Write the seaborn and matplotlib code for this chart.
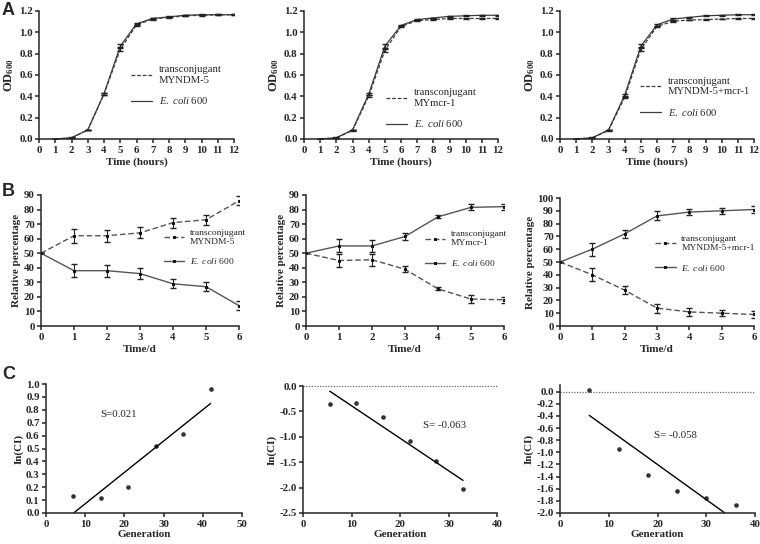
import numpy as np
import pandas as pd
import matplotlib
matplotlib.use('Agg')
import matplotlib.pyplot as plt
import seaborn as sns

# ── Data ────────────────────────────────────────
# A: growth curves (OD600)
hours = [1, 2, 3, 4, 5, 6, 7, 8, 9, 10, 11, 12]
a1_trans = [0.0, 0.010, 0.085, 0.420, 0.840, 1.070, 1.125, 1.140, 1.155, 1.160, 1.165, 1.165]
a1_ecoli = [0.0, 0.012, 0.085, 0.425, 0.870, 1.080, 1.130, 1.145, 1.160, 1.165, 1.165, 1.165]
a2_trans = [0.0, 0.010, 0.080, 0.400, 0.830, 1.055, 1.110, 1.120, 1.130, 1.130, 1.130, 1.130]
a2_ecoli = [0.0, 0.012, 0.085, 0.420, 0.870, 1.065, 1.120, 1.135, 1.150, 1.155, 1.160, 1.160]
a3_trans = [0.0, 0.010, 0.080, 0.390, 0.840, 1.055, 1.105, 1.115, 1.120, 1.125, 1.130, 1.130]
a3_ecoli = [0.0, 0.012, 0.085, 0.410, 0.870, 1.070, 1.125, 1.140, 1.155, 1.160, 1.165, 1.165]
a_err = [0.0, 0.003, 0.003, 0.008, 0.018, 0.007, 0.005, 0.004, 0.004, 0.004, 0.003, 0.003]
a_names = ['transconjugant\nMYNDM-5', 'transconjugant\nMYmcr-1', 'transconjugant\nMYNDM-5+mcr-1']

# B: competition assay (relative percentage)
days = [0, 1, 2, 3, 4, 5, 6]
b1_trans = [50, 62, 62, 64, 71, 73, 86]
b1_trans_err = [0, 4.8, 4.0, 3.8, 3.5, 3.5, 3.0]
b1_ecoli = [50, 38, 38, 36, 29, 27, 14]
b1_ecoli_err = [0, 4.5, 4.0, 4.0, 3.2, 3.2, 3.0]
b2_trans = [50, 45, 45.5, 39, 25.5, 18.5, 18]
b2_trans_err = [0, 4.5, 4.0, 2.0, 1.0, 2.5, 2.0]
b2_ecoli = [50, 55, 55, 61.5, 75, 81.5, 82]
b2_ecoli_err = [0, 4.5, 4.0, 2.2, 1.0, 2.0, 2.0]
b3_trans = [50, 40, 28, 14, 11, 10, 9]
b3_trans_err = [0, 5.0, 3.0, 3.5, 3.0, 2.5, 2.5]
b3_ecoli = [50, 60, 72, 86, 89, 90, 91]
b3_ecoli_err = [0, 5.0, 3.0, 3.5, 2.5, 2.5, 2.5]
b_names = ['transconjugant\nMYNDM-5', 'transconjugant\nMYmcr-1', 'transconjugant\nMYNDM-5+mcr-1']

# C: competitive index per generation
c1_gen = [7, 14, 21, 28, 35, 42]
c1_lnci = [0.135, 0.115, 0.20, 0.52, 0.61, 0.965]
c2_gen = [5.5, 11, 16.5, 22, 27.5, 33]
c2_lnci = [-0.35, -0.33, -0.61, -1.09, -1.47, -2.03]
c3_gen = [6, 12, 18, 24, 30, 36]
c3_lnci = [0.03, -0.95, -1.38, -1.63, -1.75, -1.87]
c_slopes = ['S=0.021', 'S= -0.063', 'S= -0.058']

# ── Style ───────────────────────────────────────
sns.set_style('ticks')
plt.rcParams['font.family'] = ['Liberation Serif', 'DejaVu Serif']
plt.rcParams['mathtext.fontset'] = 'custom'
plt.rcParams['mathtext.rm'] = 'Liberation Serif'
plt.rcParams['mathtext.it'] = 'Liberation Serif:italic'
plt.rcParams['mathtext.bf'] = 'Liberation Serif:bold'
plt.rcParams['axes.unicode_minus'] = False
plt.rcParams['axes.linewidth'] = 1.1
plt.rcParams['xtick.major.width'] = 1.1
plt.rcParams['ytick.major.width'] = 1.1
plt.rcParams['xtick.major.size'] = 3
plt.rcParams['ytick.major.size'] = 3
plt.rcParams['xtick.major.pad'] = 2
plt.rcParams['ytick.major.pad'] = 1.5

LINE = '#3c3c3c'
TICK_FS = 7.8
LAB_FS = 8
ECOLI = r'$\mathit{E.\ coli}$ 600'

fig = plt.figure(figsize=(7.6, 5.44), dpi=100)
W, H = 760, 544


def add_ax(left, top, right, bottom):
    return fig.add_axes([left / W, 1 - bottom / H, (right - left) / W, (bottom - top) / H])


def style_ax(ax):
    sns.despine(ax=ax)
    for lab in ax.get_xticklabels() + ax.get_yticklabels():
        lab.set_fontweight('bold')
        lab.set_fontsize(TICK_FS)


# ── Row A ───────────────────────────────────────
a_data = [(a1_trans, a1_ecoli), (a2_trans, a2_ecoli), (a3_trans, a3_ecoli)]
a_boxes = [(39, 11, 234, 139), (304, 11, 498, 139), (560, 11, 754, 139)]
a_leg = [(0.45, 0.61), (0.40, 0.43), (0.39, 0.52)]
for i in range(3):
    ax = add_ax(*a_boxes[i])
    trans, ecoli = a_data[i]
    sns.lineplot(x=hours, y=trans, ax=ax, color=LINE, lw=0.9, linestyle=(0, (3, 1.5)),
                 label=a_names[i])
    sns.lineplot(x=hours, y=ecoli, ax=ax, color=LINE, lw=0.9, label=ECOLI)
    ax.errorbar(hours, trans, yerr=a_err, fmt='none', ecolor='#222222', elinewidth=0.8, capsize=2.5)
    ax.errorbar(hours, ecoli, yerr=a_err, fmt='none', ecolor='#222222', elinewidth=0.8, capsize=2.5)
    ax.set_xlim(0, 12)
    ax.set_ylim(0, 1.2)
    ax.set_xticks(range(0, 13))
    ax.set_yticks(np.arange(0, 1.21, 0.2))
    ax.set_yticklabels(['%.1f' % v for v in np.arange(0, 1.21, 0.2)])
    ax.set_xlabel('Time (hours)', fontsize=LAB_FS, fontweight='bold', labelpad=2)
    ax.set_ylabel(r'OD$_{\mathbf{600}}$', fontsize=LAB_FS + 1, fontweight='bold', labelpad=2)
    ax.legend(loc='upper left', bbox_to_anchor=a_leg[i], frameon=False, fontsize=7.7,
              handlelength=2.0, handletextpad=0.6, labelspacing=1.0, borderaxespad=0)
    style_ax(ax)

# ── Row B ───────────────────────────────────────
b_data = [(b1_trans, b1_trans_err, b1_ecoli, b1_ecoli_err),
          (b2_trans, b2_trans_err, b2_ecoli, b2_ecoli_err),
          (b3_trans, b3_trans_err, b3_ecoli, b3_ecoli_err)]
b_boxes = [(41, 195, 239, 326), (306, 195, 504, 326), (560, 198, 754, 326)]
b_leg = [(0.60, 0.77), (0.58, 0.76), (0.47, 0.74)]
b_ymax = [90, 90, 100]
for i in range(3):
    ax = add_ax(*b_boxes[i])
    trans, terr, ecoli, eerr = b_data[i]
    ax.errorbar(days, trans, yerr=terr, fmt='none', ecolor='#222222', elinewidth=0.8, capsize=2)
    ax.errorbar(days, ecoli, yerr=eerr, fmt='none', ecolor='#222222', elinewidth=0.8, capsize=2)
    sns.lineplot(x=days, y=trans, ax=ax, color='#555555', lw=1.0, linestyle=(0, (4, 2)),
                 marker='s', markersize=2, markerfacecolor='#111111', markeredgecolor='#111111',
                 label=b_names[i])
    sns.lineplot(x=days, y=ecoli, ax=ax, color='#555555', lw=1.0,
                 marker='s', markersize=2, markerfacecolor='#111111', markeredgecolor='#111111',
                 label=ECOLI)
    ax.set_xlim(0, 6)
    ax.set_ylim(0, b_ymax[i])
    ax.set_xticks(days)
    ax.set_yticks(range(0, b_ymax[i] + 1, 10))
    ax.set_xlabel('Time/d', fontsize=LAB_FS, fontweight='bold', labelpad=2)
    ax.set_ylabel('Relative percentage', fontsize=LAB_FS, fontweight='bold', labelpad=2)
    ax.legend(loc='upper left', bbox_to_anchor=b_leg[i], frameon=False, fontsize=6.8,
              handlelength=2.2, handletextpad=0.6, labelspacing=1.1, borderaxespad=0)
    style_ax(ax)

# ── Row C ───────────────────────────────────────
c_data = [(c1_gen, c1_lnci), (c2_gen, c2_lnci), (c3_gen, c3_lnci)]
c_boxes = [(46, 384, 242, 513), (303, 386, 497, 513), (560, 385, 755, 513)]
c_xmax = [50, 40, 40]
c_ylim = [(0, 1.0), (-2.5, 0.0), (-2.0, 0.11)]
c_yticks = [np.arange(0, 1.01, 0.1), np.arange(-2.5, 0.01, 0.5), np.arange(-2.0, 0.01, 0.2)]
c_text = [(18.6, 0.76), (29.1, -0.78), (23.6, -0.72)]
for i in range(3):
    ax = add_ax(*c_boxes[i])
    gen, lnci = c_data[i]
    if i > 0:
        ax.axhline(0, color='#666666', lw=0.9, linestyle=(0, (1, 1.2)), clip_on=False)
    sns.regplot(x=gen, y=lnci, ax=ax, ci=None, color='black',
                scatter_kws={'s': 11, 'linewidths': 0}, line_kws={'lw': 1.0})
    ax.set_xlim(0, c_xmax[i])
    ax.set_ylim(*c_ylim[i])
    ax.set_xticks(range(0, c_xmax[i] + 1, 10))
    ax.set_yticks(c_yticks[i])
    ax.set_yticklabels(['%.1f' % (v + 0.0) for v in np.round(c_yticks[i], 1)])
    ax.text(c_text[i][0], c_text[i][1], c_slopes[i], fontsize=7.8, ha='center', va='center')
    ax.set_xlabel('Generation', fontsize=LAB_FS, fontweight='bold', labelpad=1)
    ax.set_ylabel('In(CI)', fontsize=LAB_FS, fontweight='bold', labelpad=2)
    style_ax(ax)

# ── Panel letters ───────────────────────────────
for letter, ypix in [('A', 2), ('B', 183), ('C', 366)]:
    fig.text(2 / W, 1 - ypix / H, letter, fontsize=13, fontweight='bold',
             family=['Liberation Sans', 'DejaVu Sans'], va='top', ha='left')

plt.savefig('out.png', dpi=100)
